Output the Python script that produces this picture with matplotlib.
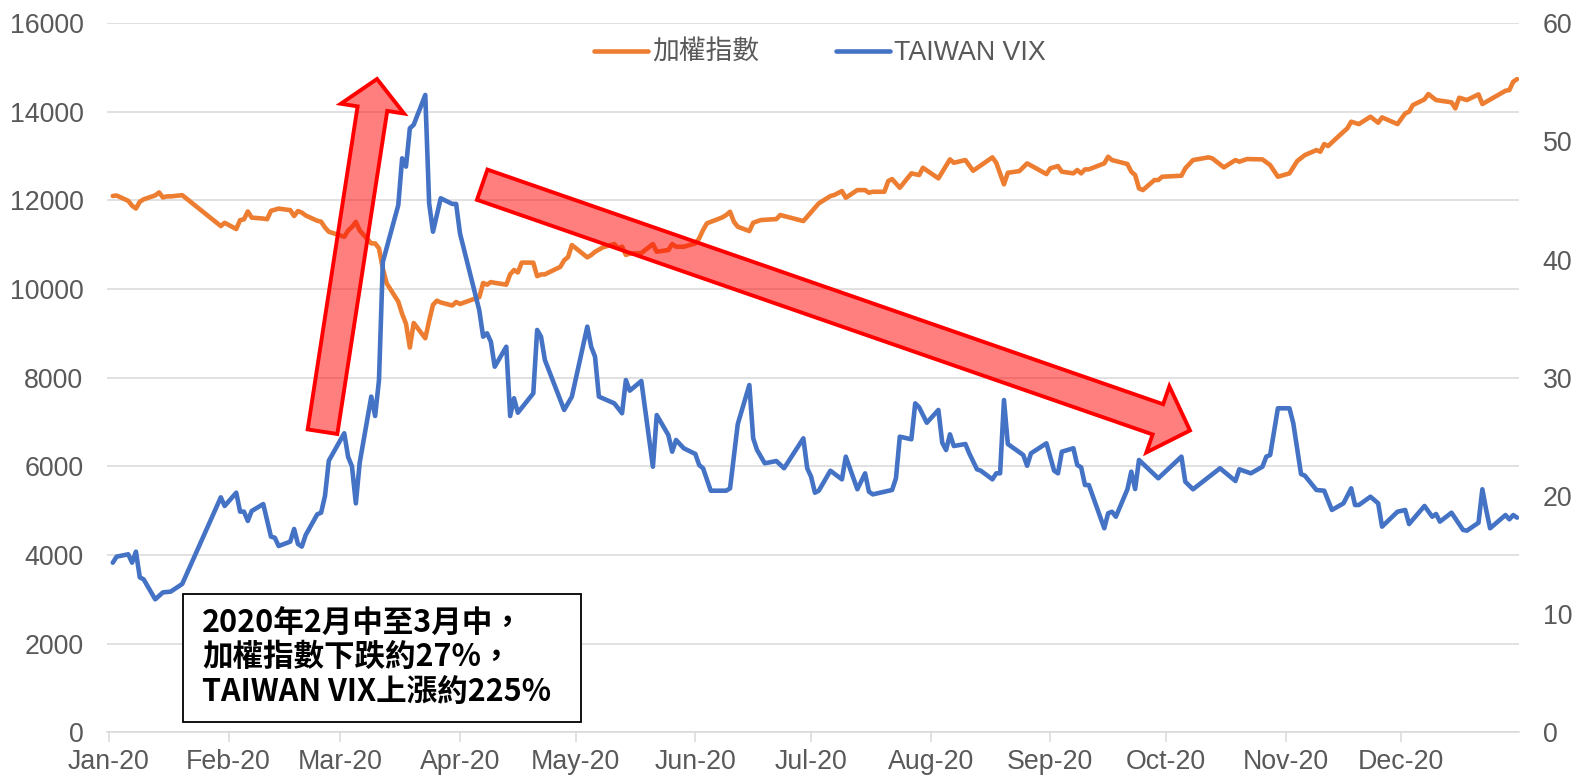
import matplotlib
matplotlib.use("Agg")
import matplotlib.pyplot as plt
import matplotlib.dates as mdates
from matplotlib.patches import Polygon, Rectangle
import numpy as np
import pandas as pd

# ---------------- data ----------------
taiex_dates = [
    "01-02", "01-03", "01-06", "01-07", "01-08", "01-09", "01-10", "01-13", "01-14", "01-15", "01-16", "01-17", "01-20",
    "01-30", "01-31",
    "02-03", "02-04", "02-05", "02-06", "02-07", "02-10", "02-11", "02-12", "02-13", "02-14", "02-17", "02-18", "02-19",
    "02-20", "02-21", "02-24", "02-25", "02-26", "02-27",
    "03-02", "03-03", "03-04", "03-05", "03-06", "03-09", "03-10", "03-11", "03-12", "03-13", "03-16", "03-17", "03-18",
    "03-19", "03-20", "03-23", "03-24", "03-25", "03-26", "03-27", "03-30", "03-31",
    "04-01", "04-06", "04-07", "04-08", "04-09", "04-10", "04-13", "04-14", "04-15", "04-16", "04-17", "04-20", "04-21",
    "04-22", "04-23", "04-24", "04-27", "04-28", "04-29", "04-30",
    "05-04", "05-05", "05-06", "05-07", "05-08", "05-11", "05-12", "05-13", "05-14", "05-15", "05-18", "05-19", "05-21",
    "05-22", "05-25", "05-26", "05-27", "05-29",
    "06-01", "06-02", "06-03", "06-04", "06-08", "06-09", "06-10", "06-11", "06-12", "06-15", "06-16", "06-18", "06-22",
    "06-23", "06-29",
    "07-03", "07-06", "07-07", "07-09", "07-10", "07-13", "07-15", "07-16", "07-17", "07-20", "07-21", "07-22", "07-24",
    "07-27", "07-29", "07-30",
    "08-03", "08-06", "08-07", "08-10", "08-12", "08-17", "08-18", "08-20", "08-21", "08-24", "08-26", "08-31",
    "09-01", "09-03", "09-04", "09-07", "09-08", "09-09", "09-10", "09-11", "09-15", "09-16", "09-17", "09-21", "09-22",
    "09-23", "09-24", "09-25", "09-28", "09-29", "09-30",
    "10-05", "10-06", "10-08", "10-12", "10-13", "10-16", "10-19", "10-20", "10-22", "10-26", "10-28", "10-30",
    "11-02", "11-04", "11-06", "11-09", "11-10", "11-11", "11-12", "11-16", "11-17", "11-18", "11-20", "11-23", "11-25",
    "11-26", "11-30",
    "12-02", "12-03", "12-04", "12-07", "12-08", "12-10", "12-14", "12-15", "12-16", "12-18", "12-21", "12-22", "12-28",
    "12-29", "12-30", "12-31",
]
taiex_values = [
    12100, 12110, 11990, 11880, 11817, 11970, 12024, 12113, 12180, 12066, 12091, 12090, 12118,
    11421, 11495,
    11354, 11555, 11573, 11750, 11612, 11590, 11575, 11765, 11790, 11815, 11780, 11648, 11760,
    11725, 11660, 11540, 11520, 11390, 11292,
    11180, 11320, 11400, 11514, 11321, 11030, 11030, 10918, 10460, 10128, 9717, 9439, 9218,
    8681, 9234, 8890, 9285, 9644, 9737, 9698, 9629, 9708,
    9663, 9818, 10137, 10098, 10157, 10140, 10099, 10332, 10430, 10375, 10597, 10595, 10290,
    10330, 10330, 10375, 10500, 10650, 10720, 10993,
    10715, 10767, 10840, 10890, 10940, 11015, 10920, 10955, 10770, 10800, 10810, 10880, 11015,
    10842, 10880, 11015, 10955, 10955,
    11030, 11143, 11331, 11482, 11617, 11670, 11744, 11518, 11406, 11308, 11496, 11557, 11579,
    11670, 11534,
    11933, 12098, 12121, 12211, 12060, 12233, 12233, 12173, 12195, 12195, 12436, 12481, 12285,
    12610, 12572, 12736,
    12497, 12926, 12849, 12910, 12669, 12971, 12849, 12362, 12623, 12661, 12835, 12594,
    12723, 12775, 12648, 12610, 12685, 12610, 12700, 12700, 12835, 12985, 12910, 12820, 12648,
    12572, 12272, 12233, 12459, 12459, 12534,
    12557, 12723, 12910, 12971, 12948, 12745, 12910, 12873, 12933, 12925, 12797, 12534,
    12610, 12887, 13023, 13135, 13098, 13271, 13226, 13549, 13625, 13775, 13722, 13888, 13752,
    13873, 13722,
    13963, 14000, 14151, 14279, 14399, 14264, 14212, 14076, 14316, 14264, 14392, 14174, 14474,
    14489, 14677, 14737,
]

vix_dates = [
    "01-02", "01-03", "01-06", "01-07", "01-08", "01-09", "01-10", "01-13", "01-15", "01-17", "01-20",
    "01-30", "01-31",
    "02-03", "02-04", "02-05", "02-06", "02-07", "02-10", "02-12", "02-13", "02-14", "02-17", "02-18", "02-19",
    "02-20", "02-21", "02-24", "02-25", "02-26", "02-27",
    "03-02", "03-03", "03-04", "03-05", "03-06", "03-09", "03-10", "03-11", "03-12", "03-16", "03-17", "03-18",
    "03-19", "03-20", "03-23", "03-24", "03-25", "03-27", "03-30", "03-31",
    "04-01", "04-06", "04-07", "04-08", "04-09", "04-10", "04-13", "04-14", "04-15", "04-16", "04-20", "04-21",
    "04-22", "04-23", "04-28", "04-30",
    "05-04", "05-05", "05-06", "05-07", "05-11", "05-13", "05-14", "05-15", "05-18", "05-21", "05-22", "05-25",
    "05-26", "05-27", "05-29",
    "06-01", "06-02", "06-03", "06-05", "06-09", "06-10", "06-12", "06-15", "06-16", "06-17", "06-19", "06-22",
    "06-24", "06-29", "06-30",
    "07-01", "07-02", "07-03", "07-06", "07-09", "07-10", "07-13", "07-15", "07-16", "07-17", "07-22", "07-23",
    "07-24", "07-27", "07-28", "07-29", "07-31",
    "08-03", "08-04", "08-05", "08-06", "08-07", "08-10", "08-11", "08-13", "08-14", "08-17", "08-18", "08-19",
    "08-20", "08-21", "08-25", "08-26", "08-27", "08-31",
    "09-02", "09-03", "09-04", "09-07", "09-08", "09-09", "09-10", "09-11", "09-15", "09-16", "09-17", "09-18",
    "09-21", "09-22", "09-23", "09-24", "09-29",
    "10-05", "10-06", "10-08", "10-15", "10-19", "10-20", "10-23", "10-26", "10-27", "10-28", "10-30",
    "11-02", "11-03", "11-05", "11-06", "11-09", "11-11", "11-13", "11-16", "11-18", "11-19", "11-20", "11-23",
    "11-25", "11-26", "11-30",
    "12-02", "12-03", "12-07", "12-09", "12-10", "12-11", "12-14", "12-17", "12-18", "12-21", "12-22", "12-23",
    "12-24", "12-28", "12-29", "12-30", "12-31",
]
vix_values = [
    14.35, 14.86, 15.06, 14.35, 15.28, 13.11, 12.94, 11.25, 11.84, 11.90, 12.55,
    19.88, 19.15,
    20.27, 18.67, 18.67, 17.88, 18.72, 19.31, 16.55, 16.46, 15.76, 16.13, 17.20, 15.93,
    15.71, 16.69, 18.44, 18.58, 19.99, 22.98,
    25.30, 23.30, 22.50, 19.37, 22.81, 28.40, 26.76, 29.80, 39.80, 44.60, 48.56, 47.86,
    51.10, 51.40, 53.92, 44.76, 42.35, 45.18, 44.70, 44.70,
    42.20, 35.70, 33.47, 33.76, 33.05, 30.93, 32.62, 26.76, 28.26, 27.04, 28.68, 34.04,
    33.47, 31.50, 27.27, 28.40,
    34.32, 32.62, 31.78, 28.40, 27.83, 26.99, 29.80, 28.90, 29.72, 22.47, 26.84, 25.15,
    23.74, 24.73, 24.03,
    23.55, 22.61, 22.34, 20.44, 20.44, 20.64, 26.08, 29.38, 24.87, 23.88, 22.76, 22.95,
    22.34, 24.87, 22.34,
    21.63, 20.27, 20.44, 22.13, 21.40, 23.32, 20.56, 21.91, 20.36, 20.13, 20.50, 21.49,
    25.01, 24.79, 27.83, 27.50, 26.19,
    27.27, 24.50, 23.88, 25.21, 24.22, 24.39, 23.60, 22.25, 22.13, 21.40, 21.91, 21.91,
    28.11, 24.39, 23.46, 22.55, 23.60, 24.45,
    22.13, 21.91, 23.74, 24.03, 22.61, 22.42, 20.92, 20.92, 17.26, 18.53, 18.66, 18.24,
    20.56, 22.05, 20.58, 23.04, 21.49,
    23.32, 21.20, 20.56, 22.34, 21.26, 22.25, 21.91, 22.47, 23.32, 23.46, 27.41,
    27.41, 26.14, 21.85, 21.71, 20.50, 20.44, 18.81, 19.37, 20.64, 19.23, 19.23, 19.93,
    19.37, 17.40, 18.66,
    18.81, 17.62, 19.15, 18.24, 18.47, 17.82, 18.58, 17.12, 17.06, 17.73, 20.56, 18.81,
    17.26, 18.38, 18.02, 18.38, 18.16,
]

left_ticks = [0, 2000, 4000, 6000, 8000, 10000, 12000, 14000, 16000]
right_ticks = [0, 10, 20, 30, 40, 50, 60]
series_labels = ["加權指數", "TAIWAN VIX"]
note_lines = ["2020年2月中至3月中，", "加權指數下跌約27%，", "TAIWAN VIX上漲約225%"]

# ---------------- style ----------------
plt.rcParams["font.family"] = ["Liberation Sans", "Noto Sans CJK TC"]
ORANGE = "#ED7D31"
BLUE = "#4472C4"
GRID = "#D9D9D9"
TXT = "#595959"
FS = 19.3

W, H = 1575, 778
fig = plt.figure(figsize=(W / 100, H / 100), dpi=100)
fig.patch.set_facecolor("white")

ax_l, ax_r, ax_t, ax_b = 107, 1519, 23.1, 732.3
ax = fig.add_axes([ax_l / W, 1 - ax_b / H, (ax_r - ax_l) / W, (ax_b - ax_t) / H])
ax2 = ax.twinx()

t_dates = pd.to_datetime(["2020-" + d for d in taiex_dates])
v_dates = pd.to_datetime(["2020-" + d for d in vix_dates])

l1, = ax.plot(t_dates, taiex_values, color=ORANGE, lw=3.3,
              solid_joinstyle="round", solid_capstyle="round", zorder=3)
l2, = ax2.plot(v_dates, vix_values, color=BLUE, lw=3.3,
               solid_joinstyle="round", solid_capstyle="round", zorder=3)

ax.set_xlim(pd.Timestamp("2019-12-31 12:00"), pd.Timestamp("2020-12-31 12:00"))
ax.set_ylim(0, 16000)
ax2.set_ylim(0, 60)
ax.set_yticks(left_ticks)
ax2.set_yticks(right_ticks)
ax.set_yticklabels([str(v) for v in left_ticks])
ax2.set_yticklabels([str(v) for v in right_ticks])

ax.xaxis.set_major_locator(mdates.MonthLocator())
ax.xaxis.set_major_formatter(mdates.DateFormatter("%b-%y"))

ax.yaxis.grid(True, color=GRID, lw=1.1)
ax.set_axisbelow(True)
for s in ["top", "left", "right"]:
    ax.spines[s].set_visible(False)
    ax2.spines[s].set_visible(False)
ax2.spines["bottom"].set_visible(False)
ax.spines["bottom"].set_color(GRID)
ax.spines["bottom"].set_linewidth(1.1)

ax.tick_params(axis="y", length=0, pad=17, labelsize=FS, labelcolor=TXT)
ax2.tick_params(axis="y", length=0, pad=17, labelsize=FS, labelcolor=TXT)
ax.tick_params(axis="x", length=7, width=1.1, color=GRID, pad=5, labelsize=FS, labelcolor=TXT)

# legend
fig.legend([l1, l2], series_labels, loc="center", bbox_to_anchor=(820 / W, 1 - 53 / H),
           ncol=2, frameon=False, fontsize=FS, handlelength=2.0, handletextpad=0.15,
           columnspacing=2.9, labelcolor=TXT)


# ---------------- annotations (pixel geometry) ----------------
def arrow_poly(tail, tip, w, hw, hl):
    T = np.array(tail, float)
    P = np.array(tip, float)
    u = (P - T) / np.linalg.norm(P - T)
    n = np.array([-u[1], u[0]])
    B = P - u * hl
    pts = [T + n * w / 2, B + n * w / 2, B + n * hw / 2, P,
           B - n * hw / 2, B - n * w / 2, T - n * w / 2]
    return [(p[0] / W, 1 - p[1] / H) for p in pts]


for tail, tip, w, hw, hl in [((322.5, 431.7), (377.0, 79.0), 30, 64, 30),
                             ((482.2, 184.7), (1190.0, 430.5), 32, 70, 34)]:
    poly = Polygon(arrow_poly(tail, tip, w, hw, hl), closed=True, transform=fig.transFigure,
                   facecolor=(1, 0, 0, 0.5), edgecolor="#FF0000", lw=2.8, joinstyle="miter", zorder=5)
    fig.add_artist(poly)

box = Rectangle((183 / W, 1 - 722 / H), (581 - 183) / W, (722 - 594) / H, transform=fig.transFigure,
                facecolor="white", edgecolor="black", lw=1.3, zorder=6)
fig.add_artist(box)
for line, yc in zip(note_lines, [622.5, 657.0, 692.0]):
    fig.text(202 / W, 1 - yc / H, line, fontsize=22, fontweight="bold", color="black",
             family=["Noto Sans CJK TC"], va="center", ha="left", zorder=7)

fig.savefig("out.png", dpi=100, facecolor="white")
